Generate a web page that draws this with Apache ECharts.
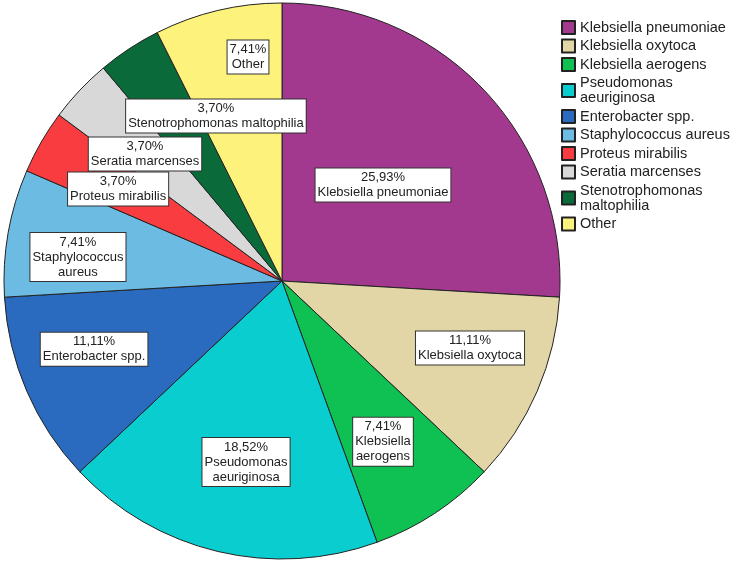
<!DOCTYPE html>
<html>
<head>
<meta charset="utf-8">
<script src="https://cdn.jsdelivr.net/npm/echarts@6/dist/echarts.min.js"></script>
<style>
html,body{margin:0;padding:0;background:#fff;}
#chart{width:733px;height:563px;}
</style>
</head>
<body>
<div id="chart"></div>
<script>
var categories = ["Klebsiella pneumoniae","Klebsiella oxytoca","Klebsiella aerogens","Pseudomonas aeuriginosa","Enterobacter spp.","Staphylococcus aureus","Proteus mirabilis","Seratia marcenses","Stenotrophomonas maltophilia","Other"];
var counts = [7,3,2,5,3,2,1,1,1,2];
var legendLabels = ["Klebsiella pneumoniae","Klebsiella oxytoca","Klebsiella aerogens","Pseudomonas\naeuriginosa","Enterobacter spp.","Staphylococcus aureus","Proteus mirabilis","Seratia marcenses","Stenotrophomonas\nmaltophilia","Other"];
var sliceLabels = ["Klebsiella pneumoniae","Klebsiella oxytoca","Klebsiella\naerogens","Pseudomonas\naeuriginosa","Enterobacter spp.","Staphylococcus\naureus","Proteus mirabilis","Seratia marcenses","Stenotrophomonas maltophilia","Other"];
var colors = ["#a3398f","#e2d6a7","#0fc152","#0acdd0","#2a6bbf","#6bbbe2","#f83c40","#d8d8d8","#0b6a3a","#fdf27c"];
// label placement: fraction of radius, angular offset (deg) from slice mid-angle
var labelRadiusFrac = [0.501,0.718,0.683,0.664,0.719,0.739,0.676,0.672,0.639,0.815];
var labelAngleOffset = [0.2,3.7,-1.2,2.1,-3.4,3.3,0.7,0.5,-11.5,-4.7];

var CX = 282, CY = 281, R = 278;
var total = counts.reduce(function(a,b){return a+b;},0);
var midAngles = [];
(function(){
  var acc = 0;
  for (var i=0;i<counts.length;i++){
    var start = 90 - acc/total*360;
    acc += counts[i];
    var end = 90 - acc/total*360;
    midAngles.push((start+end)/2);
  }
})();

var chart = echarts.init(document.getElementById('chart'));
var FONT = "'Liberation Sans', Arial, sans-serif";
chart.setOption({
  animation: false,
  color: colors,
  legend: {
    orient: 'vertical',
    left: 561,
    top: 20,
    padding: 0,
    itemWidth: 13,
    itemHeight: 13,
    itemGap: 3.5,
    icon: 'rect',
    selectedMode: false,
    data: categories,
    formatter: function(name){ return legendLabels[categories.indexOf(name)]; },
    textStyle: { fontFamily: FONT, fontSize: 14.5, lineHeight: 15, color: '#222' }
  },
  series: [{
    type: 'pie',
    center: [CX, CY],
    radius: R,
    startAngle: 90,
    clockwise: true,
    avoidLabelOverlap: false,
    silent: true,
    itemStyle: { borderColor: '#222', borderWidth: 1 },
    label: {
      show: true,
      position: 'inside',
      fontFamily: FONT,
      fontSize: 13,
      lineHeight: 15,
      color: '#222',
      backgroundColor: '#fff',
      borderColor: '#333',
      borderWidth: 1,
      padding: [2, 2, 1, 2],
      align: 'center',
      formatter: function(p){
        var pct = (p.value/total*100).toFixed(2).replace('.', ',');
        return pct + '%\n' + sliceLabels[p.dataIndex];
      }
    },
    labelLine: { show: false },
    labelLayout: function(params){
      var i = params.dataIndex;
      var a = (midAngles[i] + labelAngleOffset[i]) * Math.PI/180;
      var r = labelRadiusFrac[i] * R;
      return { x: CX + r*Math.cos(a), y: CY - r*Math.sin(a), align: 'center', verticalAlign: 'middle' };
    },
    data: categories.map(function(c,i){ return { name: c, value: counts[i] }; })
  }]
});
</script>
</body>
</html>
